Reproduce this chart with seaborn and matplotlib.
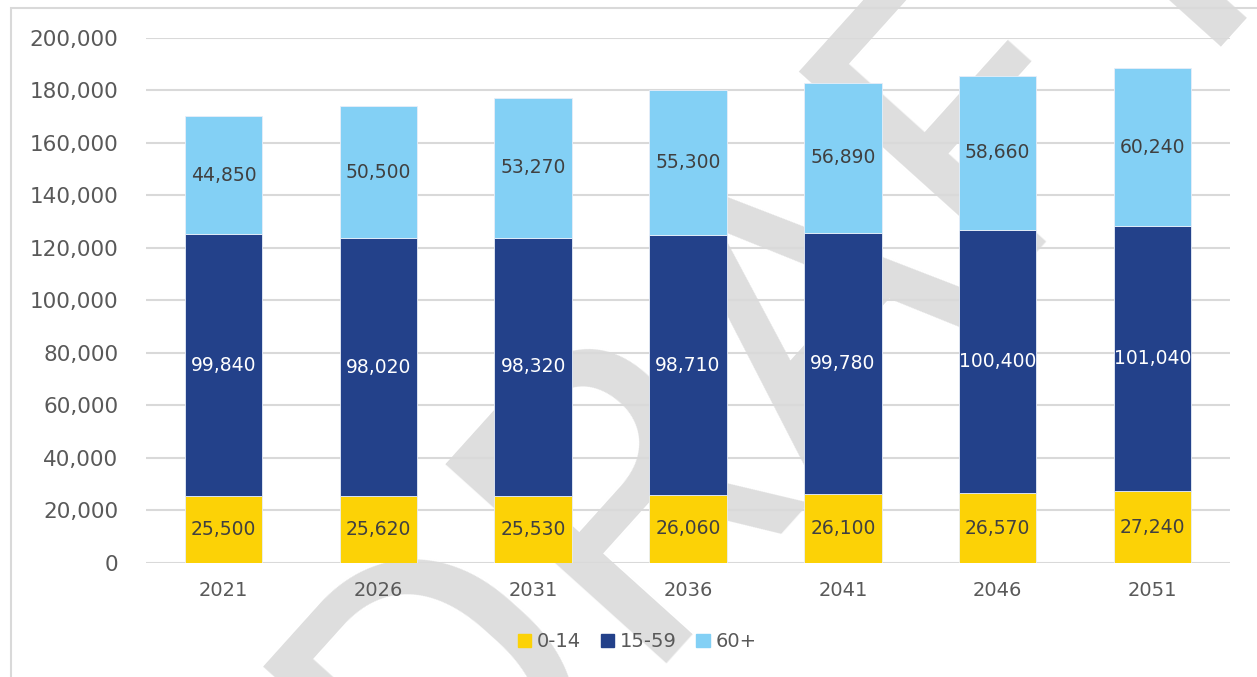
import matplotlib
matplotlib.use("Agg")
import matplotlib.pyplot as plt
from matplotlib.patches import Rectangle, Patch
import seaborn as sns
import numpy as np

# Population projection by age group
years = ["2021", "2026", "2031", "2036", "2041", "2046", "2051"]
age_0_14 = [25500, 25620, 25530, 26060, 26100, 26570, 27240]
age_15_59 = [99840, 98020, 98320, 98710, 99780, 100400, 101040]
age_60_plus = [44850, 50500, 53270, 55300, 56890, 58660, 60240]
series_names = ["0-14", "15-59", "60+"]
y_ticks = [0, 20000, 40000, 60000, 80000, 100000, 120000, 140000, 160000, 180000, 200000]

colors = ["#FCD206", "#23418A", "#83D0F5"]
label_colors = ["#404040", "#FFFFFF", "#404040"]
text_grey = "#595959"

sns.set_theme(style="white")
plt.rcParams["font.family"] = ["DejaVu Sans"]

fig = plt.figure(figsize=(12.57, 6.77), dpi=100)
ax = fig.add_axes([0.1162, 0.1684, 0.8623, 0.7755])
ax.patch.set_alpha(0)

# Watermark behind the plot
fig.text(0.358, -0.278, "DRAFT", fontsize=300, color="#dedede", rotation=48,
         rotation_mode="anchor", ha="left", va="baseline", zorder=-10,
         family=["Roboto", "DejaVu Sans"])

# Outer frame
fig.patches.append(Rectangle((11 / 1257, -0.05), 1.2, 1 - 8 / 677 + 0.05,
                             transform=fig.transFigure, fill=False,
                             ec="#d9d9d9", lw=1.5, zorder=-5))

bottom = np.zeros(len(years))
for vals, name, col, lcol in zip([age_0_14, age_15_59, age_60_plus],
                                 series_names, colors, label_colors):
    sns.barplot(x=years, y=vals, bottom=bottom, color=col, width=0.5,
                saturation=1, edgecolor="#e8eef8", linewidth=0.6,
                ax=ax, zorder=3)
    cont = ax.containers[-1]
    ax.bar_label(cont, labels=[f"{v:,}" for v in vals], label_type="center",
                 color=lcol, fontsize=13.5)
    bottom = bottom + np.array(vals)

ax.set_ylim(0, 200000)
ax.set_xlim(-0.5, 6.5)
ax.set_yticks(y_ticks)
ax.set_yticklabels([f"{t:,}" for t in y_ticks])
ax.yaxis.grid(True, color="#d9d9d9", lw=1.5, zorder=0)
ax.set_axisbelow(True)
for s in ax.spines.values():
    s.set_visible(False)
ax.tick_params(axis="y", length=0, labelsize=15.5, labelcolor=text_grey, pad=20)
ax.tick_params(axis="x", length=0, labelsize=14, labelcolor=text_grey, pad=13)
ax.set_xlabel("")
ax.set_ylabel("")

handles = [Patch(color=c, label=n) for c, n in zip(colors, series_names)]
fig.legend(handles=handles, loc="center", bbox_to_anchor=(0.507, 0.052),
           ncol=3, frameon=False, fontsize=14, handlelength=0.7,
           handleheight=0.7, handletextpad=0.3, columnspacing=1.0,
           labelcolor=text_grey)

fig.savefig("out.png", dpi=100)
